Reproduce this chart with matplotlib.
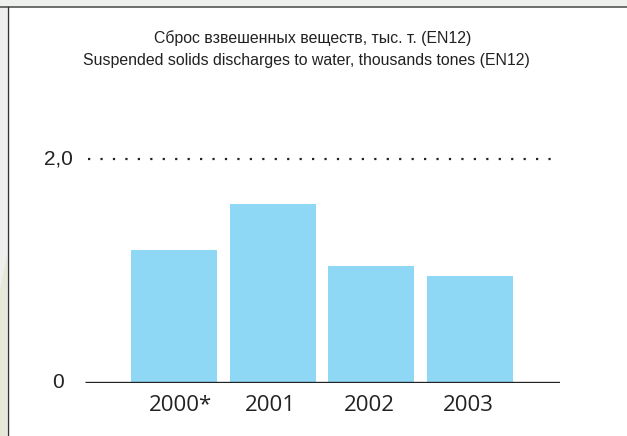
import matplotlib
matplotlib.use("Agg")
import matplotlib.pyplot as plt
from matplotlib.patches import Rectangle, Polygon

categories = ["2000*", "2001", "2002", "2003"]
values = [1.19, 1.60, 1.04, 0.95]
ytick_values = [0, 2.0]
ytick_labels = ["0", "2,0"]
title_ru = "Сброс взвешенных веществ, тыс. т. (EN12)"
title_en = "Suspended solids discharges to water, thousands tones (EN12)"

W, H = 627, 436
fig = plt.figure(figsize=(W / 100, H / 100), dpi=100)
fig.patch.set_facecolor("white")

def px(x, y):
    return x / W, 1 - y / H

# decorative frame: top gray band, left strip
fig.patches.append(Rectangle((0, 1 - 7 / H), 1, 7 / H, transform=fig.transFigure,
                             facecolor="#eef0ee", edgecolor="none", zorder=0))
fig.patches.append(Rectangle((0, 0), 7 / W, 1, transform=fig.transFigure,
                             facecolor="#eef0ee", edgecolor="none", zorder=0))
fig.patches.append(Polygon([px(0, 290), px(7, 255), px(7, 436), px(0, 436)], closed=True,
                           transform=fig.transFigure, facecolor="#e6e8d8", edgecolor="none", zorder=0))
fig.lines.append(plt.Line2D([0, 1], [1 - 7.5 / H] * 2, transform=fig.transFigure,
                            color="#555555", lw=1.2))
fig.lines.append(plt.Line2D([7.5 / W] * 2, [0, 1 - 7.5 / H], transform=fig.transFigure,
                            color="#333333", lw=1.0))

# axes geometry
x_left, x_right = 85, 560
y0, y2 = 382.5, 159
ymax = 2.2
top_px = y0 - (y0 - y2) * ymax / 2.0
ax = fig.add_axes([x_left / W, 1 - y0 / H, (x_right - x_left) / W, (y0 - top_px) / H])
ax.set_facecolor("none")
for s in ax.spines.values():
    s.set_visible(False)

step = 98.7
xmin = (x_left - 174) / step
xmax = (x_right - 174) / step
ax.set_xlim(xmin, xmax)
ax.set_ylim(0, ymax)

xs = list(range(len(categories)))
ax.bar(xs, values, width=86 / step, color="#8fd8f5", zorder=2)
ax.axhline(0, color="#222222", lw=2.4, zorder=3, solid_capstyle="butt")
ax.plot([(88 - 174) / step, (560 - 174) / step], [2.0, 2.0], color="#222222",
        lw=1.6, linestyle=(0, (1, 4.6)), dash_capstyle="butt", zorder=3)

ax.set_xticks([])
ax.set_yticks([])
for x, lab in zip(xs, categories):
    off = 0.07 if lab.endswith("*") else -0.02
    ax.text(x + off, -0.21, lab, ha="center", va="center", fontsize=16,
            family=["Open Sans", "DejaVu Sans"], color="#222222")

for v, lab in zip(ytick_values, ytick_labels):
    ax.text((58 - 174) / step, v, lab, ha="center", va="center", fontsize=15,
            family=["Liberation Sans Narrow", "Liberation Sans", "DejaVu Sans"],
            color="#222222", clip_on=False)

fig.text(313 / W, 1 - 38 / H, title_ru, ha="center", va="center", fontsize=11.4,
         family=["Liberation Sans", "DejaVu Sans"], color="#222222")
fig.text(306 / W, 1 - 60 / H, title_en, ha="center", va="center", fontsize=11.4,
         family=["Liberation Sans", "DejaVu Sans"], color="#222222")

fig.savefig("out.png", dpi=100, facecolor="white")
